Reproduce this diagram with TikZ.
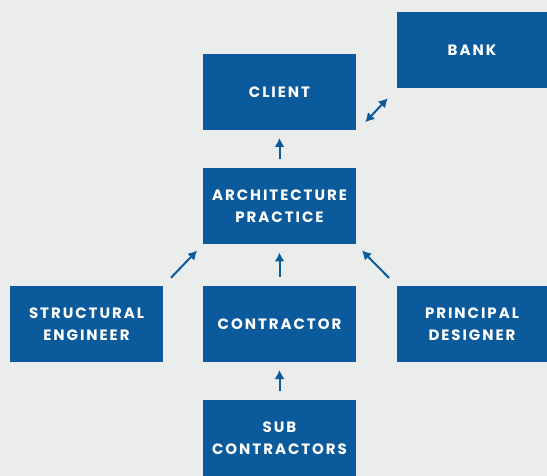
\documentclass[tikz,border=0pt]{standalone}
\usepackage{fontspec}
\newfontfamily\boxfont{Poppins}[LetterSpace=13]
\usetikzlibrary{arrows.meta}

\definecolor{boxblue}{HTML}{0B5A9C}
\definecolor{paper}{HTML}{EBECEC}

\tikzset{
  box/.style={fill=boxblue,text=white,minimum width=153pt,minimum height=76pt,
    inner sep=0pt,align=center,font=\boxfont\bfseries\fontsize{15}{22}\selectfont},
  link/.style={shorten <=8pt,shorten >=7pt}
}

\begin{document}
\begin{tikzpicture}[x=1pt,y=-1pt,->,>={Latex[length=9pt,width=10pt]},line width=2pt,draw=boxblue]

\fill[paper] (0,0) rectangle (547,476);
\useasboundingbox (0,0) rectangle (547,476);

\node[box] (client) at (279.5,92) {CLIENT};
\node[box,minimum width=150pt] (bank) at (472,50.5) {BANK};
\node[box] (arch) at (279.5,206.5) {ARCHITECTURE\\PRACTICE};
\node[box] (struct) at (86.5,324) {STRUCTURAL\\ENGINEER};
\node[box] (contr) at (279.5,324) {CONTRACTOR};
\node[box,minimum width=150pt] (princ) at (472,324) {PRINCIPAL\\DESIGNER};
\node[box] (sub) at (279.5,438) {SUB\\CONTRACTORS};

\draw[link] (arch) -- (client);
\draw[link] (contr) -- (arch);
\draw[link] (sub) -- (contr);
\draw[link,shorten <=10pt] (struct.north east) -- (arch.south west);
\draw[link,shorten <=10pt] (princ.north west) -- (arch.south east);
\draw[<->,shorten <=12pt,shorten >=12pt] (client.south east) -- (bank.south west);

\end{tikzpicture}
\end{document}
